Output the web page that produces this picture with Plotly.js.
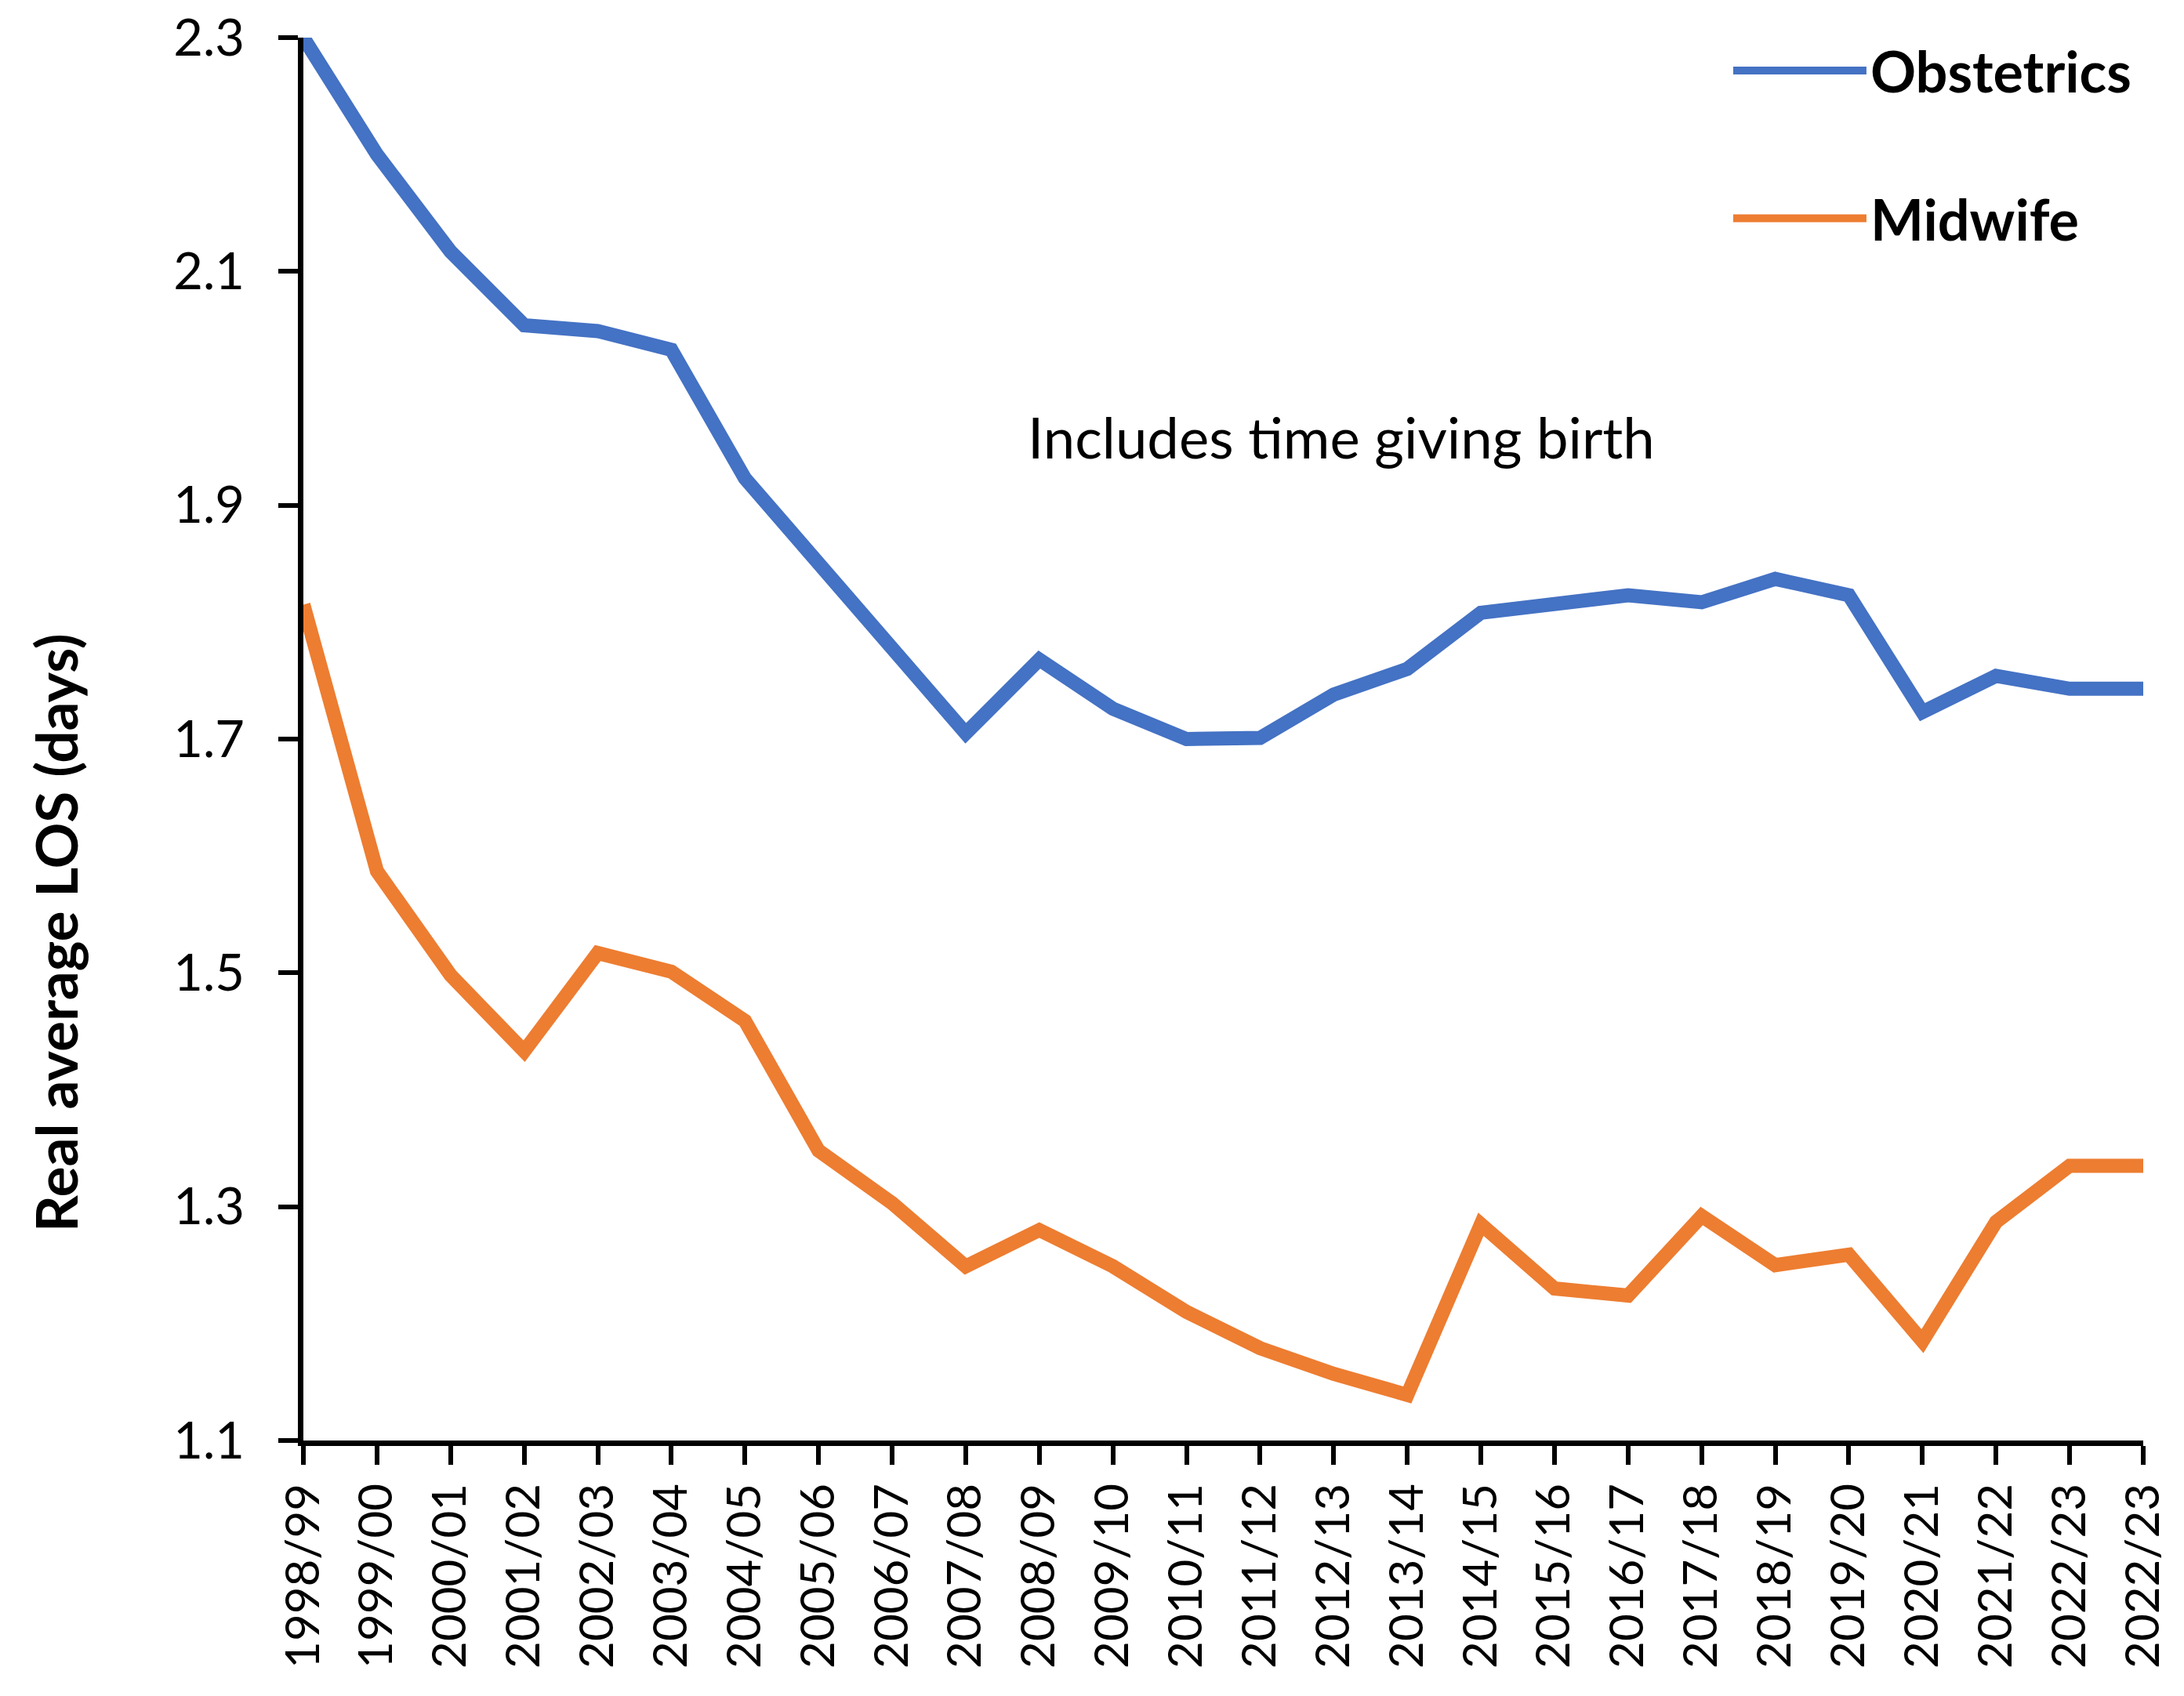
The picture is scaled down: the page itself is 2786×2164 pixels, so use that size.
<!DOCTYPE html>
<html>
<head>
<meta charset="utf-8">
<script src="https://cdn.plot.ly/plotly-3.0.1.min.js"></script>
<style>
  html, body { margin: 0; padding: 0; background: #ffffff; }
  #chart { width: 2786px; height: 2164px; }
</style>
</head>
<body>
<div id="chart"></div>
<script>
// ---- Data ----
var categories = ["1998/99","1999/00","2000/01","2001/02","2002/03","2003/04","2004/05","2005/06",
  "2006/07","2007/08","2008/09","2009/10","2010/11","2011/12","2012/13","2013/14","2014/15",
  "2015/16","2016/17","2017/18","2018/19","2019/20","2020/21","2021/22","2022/23","2022/23"];

var obstetrics = [2.300, 2.200, 2.117, 2.054, 2.049, 2.033, 1.923, 1.850, 1.781, 1.705, 1.768, 1.726,
  1.700, 1.701, 1.738, 1.760, 1.808, 1.814, 1.823, 1.817, 1.837, 1.823, 1.723, 1.754, 1.743, 1.743];

var midwife = [1.815, 1.587, 1.498, 1.433, 1.517, 1.501, 1.459, 1.348, 1.303, 1.249, 1.280, 1.249,
  1.210, 1.179, 1.157, 1.139, 1.285, 1.230, 1.224, 1.292, 1.250, 1.259, 1.185, 1.287, 1.335, 1.335];

var yTicks = [1.1, 1.3, 1.5, 1.7, 1.9, 2.1, 2.3];
var seriesNames = ["Obstetrics", "Midwife"];
var yTitle = "Real average LOS (days)";
var noteText = "Includes time giving birth";

// ---- Chart ----
var xIdx = categories.map(function (c, i) { return i; });
var FONT = "Lato, 'Open Sans', sans-serif";

var traces = [
  { x: xIdx, y: obstetrics, name: seriesNames[0], type: "scatter", mode: "lines",
    line: { color: "#4472C4", width: 18 }, cliponaxis: false, legendgroup: "a" },
  { x: xIdx, y: midwife, name: seriesNames[1], type: "scatter", mode: "lines",
    line: { color: "#ED7D31", width: 18 }, cliponaxis: false, legendgroup: "b" }
];

var layout = {
  width: 2786, height: 2164,
  margin: { l: 387, r: 52, t: 48, b: 326, autoexpand: false },
  paper_bgcolor: "#ffffff", plot_bgcolor: "#ffffff",
  font: { family: FONT, color: "#000000", size: 61 },
  showlegend: true,
  legend: {
    x: 0.775, xanchor: "left", y: 1.0063, yanchor: "top",
    font: { family: FONT, size: 72, color: "#000000", weight: "bold" },
    bgcolor: "rgba(0,0,0,0)", tracegroupgap: 92, itemwidth: 170
  },
  xaxis: {
    range: [0, categories.length - 1],
    tickmode: "array", tickvals: xIdx, ticktext: categories,
    tickangle: -90,
    showline: true, linecolor: "#000000", linewidth: 7,
    ticks: "outside", ticklen: 24, tickwidth: 6, tickcolor: "#000000",
    showgrid: false, zeroline: false, fixedrange: true, automargin: false,
    tickfont: { family: FONT, size: 60, color: "#000000" }
  },
  yaxis: {
    range: [1.1, 2.3],
    tickmode: "array", tickvals: yTicks, ticktext: yTicks.map(function (v) { return v.toFixed(1); }),
    showline: true, linecolor: "#000000", linewidth: 7,
    ticks: "outside", ticklen: 25, tickwidth: 6, tickcolor: "#000000",
    ticklabelstandoff: 30,
    showgrid: false, zeroline: false, fixedrange: true, automargin: false,
    tickfont: { family: FONT, size: 65, color: "#000000" }
  },
  annotations: [
    { text: "<b>" + yTitle + "</b>", xref: "paper", yref: "paper", x: 0, y: 0.362,
      xanchor: "center", yanchor: "middle", xshift: -316, textangle: -90, showarrow: false,
      font: { family: FONT, size: 73, color: "#000000" } },
    { text: noteText, xref: "paper", yref: "paper", x: 0.564, y: 0.716,
      xanchor: "center", yanchor: "middle", showarrow: false,
      font: { family: FONT, size: 72.5, color: "#000000" } }
  ]
};

Plotly.newPlot("chart", traces, layout, { displayModeBar: false, staticPlot: true });
</script>
</body>
</html>
